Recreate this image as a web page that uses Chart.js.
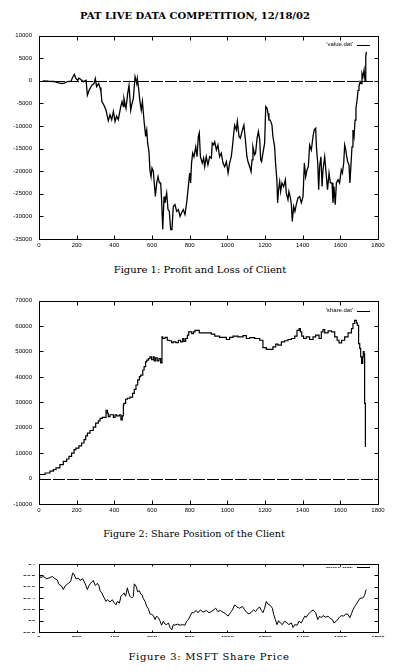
<!DOCTYPE html>
<html><head><meta charset="utf-8">
<script src="https://cdn.jsdelivr.net/npm/chart.js@4.4.1/dist/chart.umd.min.js"></script>
<style>
html,body{margin:0;padding:0;background:#fff}
body{width:397px;height:672px;position:relative;overflow:hidden}
canvas{position:absolute;left:0}
.t{position:absolute;white-space:nowrap;color:#000;font-family:"DejaVu Serif",serif;transform:translate(-50%,-50%)}
.lg{position:absolute;white-space:nowrap;color:#000;font-family:"Liberation Sans",sans-serif;font-size:6px;transform:translateY(-50%);text-align:right}
</style></head><body>
<div class="t" style="left:195px;top:15px;font-size:10px;font-weight:bold">PAT LIVE DATA COMPETITION, 12/18/02</div>
<canvas id="c1" width="397" height="230" style="top:25px"></canvas>
<div class="lg" style="right:44px;top:44px">'value.dat'</div>
<div class="t" style="left:200px;top:269px;font-size:10px">Figure 1: Profit and Loss of Client</div>
<canvas id="c2" width="397" height="230" style="top:290px"></canvas>
<div class="lg" style="right:44px;top:310px">'share.dat'</div>
<div class="t" style="left:194px;top:533px;font-size:9.6px">Figure 2: Share Position of the Client</div>
<canvas id="c3" width="397" height="88" style="top:556px"></canvas>
<div class="lg" style="right:44px;top:567px;font-weight:bold;transform:translateY(-50%) scaleY(0.4)">'price.dat'</div>
<div class="t" style="left:209px;top:656px;font-size:10px;letter-spacing:0.7px">Figure 3: MSFT Share Price</div>
<script>
// ---- data ----
const xTicks = [0,200,400,600,800,1000,1200,1400,1600,1800];
const pnlTicks = [-35000,-30000,-25000,-20000,-15000,-10000,-5000,0,5000,10000];
const shareTicks = [-10000,0,10000,20000,30000,40000,50000,60000,70000];
const priceTicks = [52.8,53,53.2,53.4,53.6,53.8,54];

const pnl = [[20,0],[50,-100],[80,-150],[100,-400],[120,-600],[135,-500],[150,-200],[170,-100],[180,900],[188,1400],[195,600],[205,100],[212,600],[222,300],[235,-200],[250,100],[257,-3200],[267,-2000],[280,-1000],[292,-600],[299,500],[306,-1300],[317,-600],[324,-1500],[329,-2400],[334,-4600],[345,-5400],[356,-6500],[363,-7900],[368,-8800],[377,-7500],[386,-8600],[395,-6800],[404,-9000],[412,-7800],[421,-8600],[434,-5700],[441,-4600],[448,-5700],[451,-3900],[462,-6100],[471,-2800],[478,-1000],[487,-6500],[492,-5400],[501,-3900],[510,900],[519,-600],[522,500],[529,-1700],[536,-4600],[543,-6500],[549,-4600],[558,-9000],[563,-10900],[566,-12300],[572,-10900],[577,-13800],[584,-15700],[589,-19700],[595,-21200],[600,-19300],[607,-20000],[612,-22600],[618,-25600],[625,-22600],[632,-21200],[639,-22600],[646,-22600],[651,-26300],[657,-32900],[664,-25600],[669,-27000],[678,-24800],[685,-28500],[692,-28900],[699,-32900],[706,-32900],[713,-27800],[722,-27400],[731,-28900],[740,-28500],[749,-30000],[757,-29200],[766,-28500],[775,-29600],[784,-27000],[793,-23400],[800,-20400],[805,-22600],[810,-18200],[816,-16000],[823,-16800],[832,-14600],[839,-16800],[846,-12300],[851,-11500],[857,-16800],[867,-18200],[874,-17100],[880,-19000],[888,-16800],[897,-18600],[906,-16800],[915,-17100],[920,-13800],[927,-14200],[933,-13500],[942,-15300],[950,-14200],[959,-16800],[968,-16000],[977,-18200],[986,-19000],[995,-17900],[1004,-20400],[1012,-18200],[1021,-16800],[1027,-14600],[1034,-11600],[1039,-9800],[1048,-10900],[1053,-9000],[1062,-12300],[1069,-12700],[1080,-10900],[1088,-9800],[1096,-13100],[1104,-16800],[1110,-17900],[1119,-19000],[1126,-20100],[1131,-17500],[1136,-14600],[1145,-16400],[1150,-16000],[1158,-12700],[1165,-11200],[1172,-13100],[1177,-17500],[1182,-17900],[1189,-16000],[1198,-13800],[1204,-5700],[1211,-6100],[1216,-7200],[1221,-8700],[1228,-8700],[1237,-9800],[1242,-12300],[1251,-14600],[1256,-18200],[1263,-21900],[1267,-27000],[1272,-24100],[1278,-22300],[1283,-24500],[1290,-22600],[1299,-23400],[1308,-21900],[1313,-24800],[1322,-26300],[1327,-24500],[1335,-25900],[1340,-27400],[1345,-31100],[1352,-27800],[1359,-28900],[1366,-27400],[1375,-25900],[1384,-25600],[1393,-27000],[1402,-25600],[1409,-18200],[1416,-21200],[1423,-19700],[1430,-19000],[1437,-14200],[1446,-15300],[1455,-12300],[1461,-10900],[1469,-10500],[1473,-14600],[1480,-18200],[1485,-24100],[1490,-19000],[1497,-16800],[1503,-23400],[1508,-19700],[1517,-16800],[1526,-21200],[1532,-24100],[1540,-20400],[1547,-22600],[1556,-22600],[1561,-27000],[1566,-23400],[1573,-27400],[1579,-22600],[1588,-21900],[1596,-22600],[1605,-19700],[1611,-20400],[1618,-18200],[1623,-14200],[1629,-15300],[1634,-16800],[1639,-17900],[1646,-18600],[1651,-22600],[1657,-18200],[1662,-14600],[1667,-10900],[1673,-12300],[1678,-8700],[1683,-6100],[1689,-4300],[1694,-2100],[1699,-1300],[1705,-200],[1710,-600],[1715,1600],[1720,900],[1726,2400],[1731,100],[1735,5300],[1738,6400]];

const shares = [[0,-1000],[3,0],[32,1600],[58,2200],[76,2900],[90,3500],[111,4200],[129,5500],[147,6800],[159,7700],[173,8700],[186,10000],[196,11400],[212,12000],[226,12900],[239,14000],[248,15300],[257,16800],[271,17900],[288,18900],[301,20200],[315,21800],[324,22700],[336,23700],[356,24100],[363,26800],[368,25700],[377,24400],[395,25100],[404,24100],[412,25100],[427,24700],[435,25100],[442,23100],[448,24700],[451,29000],[460,29600],[469,31200],[483,31600],[497,32000],[506,33500],[515,35100],[524,36800],[533,38800],[540,40100],[551,40700],[558,42700],[566,44000],[572,45900],[581,46600],[589,47200],[598,47900],[607,46800],[612,47900],[619,46300],[628,47500],[637,46300],[646,47200],[653,45500],[657,55700],[669,55100],[681,55500],[692,54400],[704,54200],[713,53500],[727,53800],[740,53500],[752,54400],[763,53800],[770,55100],[779,54000],[788,55100],[795,56400],[811,57700],[820,57000],[828,57700],[851,58300],[871,57300],[897,57300],[915,57300],[933,56800],[959,56000],[995,55500],[1012,54700],[1030,55500],[1057,56000],[1083,55700],[1101,56200],[1119,55100],[1145,55400],[1172,55100],[1189,54400],[1207,51500],[1242,50800],[1257,51800],[1269,52900],[1287,52500],[1304,53800],[1322,54200],[1340,54700],[1358,55100],[1370,56000],[1381,58300],[1388,59000],[1395,57700],[1405,56000],[1419,55100],[1437,55700],[1455,54700],[1469,55700],[1487,56400],[1499,55100],[1508,57700],[1517,58600],[1535,57300],[1553,58100],[1570,57700],[1583,55700],[1593,54400],[1607,53400],[1623,54400],[1641,55700],[1659,57300],[1667,59000],[1676,61000],[1685,62200],[1690,61200],[1697,60300],[1703,53100],[1708,51200],[1713,47900],[1719,45300],[1722,47900],[1726,49900],[1729,49000],[1733,29600],[1736,12700]];

const price = [[0,53.81],[9,53.76],[23,53.78],[41,53.74],[58,53.76],[71,53.78],[85,53.74],[97,53.72],[106,53.64],[120,53.61],[129,53.55],[138,53.61],[156,53.66],[168,53.69],[179,53.84],[186,53.82],[196,53.74],[209,53.75],[218,53.71],[232,53.74],[244,53.66],[257,53.55],[264,53.61],[274,53.66],[288,53.71],[299,53.62],[310,53.66],[319,53.61],[324,53.53],[333,53.49],[345,53.41],[356,53.34],[363,53.37],[377,53.33],[389,53.37],[400,53.31],[409,53.28],[416,53.34],[427,53.31],[435,53.43],[444,53.46],[451,53.49],[460,53.43],[469,53.58],[476,53.49],[483,53.43],[492,53.40],[501,53.43],[506,53.65],[515,53.61],[524,53.51],[533,53.53],[540,53.47],[547,53.46],[554,53.39],[563,53.34],[572,53.25],[581,53.21],[589,53.12],[598,53.11],[607,53.09],[616,53.02],[625,53.08],[634,53.05],[642,53.00],[651,52.92],[660,52.99],[669,52.94],[678,52.93],[687,52.96],[696,52.88],[705,52.84],[713,52.93],[722,52.92],[735,52.94],[749,52.92],[763,52.93],[775,52.92],[784,52.99],[793,53.02],[802,53.08],[811,53.14],[821,53.14],[835,53.18],[844,53.14],[857,53.19],[871,53.15],[888,53.18],[903,53.14],[915,53.16],[927,53.19],[938,53.22],[950,53.16],[963,53.18],[977,53.15],[991,53.12],[1004,53.08],[1016,53.14],[1027,53.19],[1039,53.28],[1051,53.24],[1065,53.22],[1080,53.25],[1092,53.19],[1104,53.14],[1115,53.12],[1127,53.15],[1140,53.19],[1150,53.16],[1163,53.22],[1172,53.24],[1181,53.18],[1189,53.14],[1198,53.22],[1207,53.34],[1216,53.29],[1228,53.27],[1239,53.22],[1246,53.11],[1255,53.02],[1264,52.93],[1272,53.00],[1281,52.96],[1292,52.93],[1304,52.99],[1317,52.96],[1327,52.93],[1340,52.96],[1349,52.88],[1358,52.93],[1370,52.92],[1381,52.99],[1393,52.96],[1402,53.02],[1411,53.08],[1419,53.06],[1428,53.11],[1441,53.15],[1455,53.19],[1469,53.14],[1480,53.02],[1490,53.08],[1499,53.05],[1508,53.09],[1522,53.06],[1535,53.08],[1543,53.05],[1558,53.02],[1566,52.96],[1579,52.99],[1593,53.05],[1605,53.09],[1618,53.08],[1629,53.12],[1641,53.11],[1650,53.05],[1659,53.12],[1667,53.19],[1676,53.25],[1685,53.29],[1694,53.34],[1703,53.39],[1712,53.40],[1720,53.40],[1729,53.45],[1735,53.53],[1738,53.55]];

// ---- rendering ----
const FONT = {family: '"Liberation Sans", Arial, sans-serif', size: 6};
const FONT3 = {family: '"Liberation Sans", Arial, sans-serif', size: 6, weight: 'bold'};

const framePlugin = {
  id: 'frame',
  beforeDatasetsDraw(chart, args, o) {
    if (!o.zero) return;
    const {ctx, chartArea: a, scales: {y}} = chart;
    const py = Math.round(y.getPixelForValue(0)) + 0.5;
    ctx.save();
    ctx.strokeStyle = '#000'; ctx.lineWidth = 1; ctx.setLineDash([12, 2]);
    ctx.beginPath(); ctx.moveTo(a.left, py); ctx.lineTo(a.right, py); ctx.stroke();
    ctx.restore();
  },
  afterDatasetsDraw(chart, args, o) {
    const {ctx, chartArea: a, scales: {x, y}} = chart;
    const L = Math.round(a.left) + 0.5, R = Math.round(a.right) + 0.5;
    const T = Math.round(a.top) + 0.5, B = Math.round(a.bottom) + 0.5;
    ctx.save();
    ctx.strokeStyle = '#000'; ctx.lineWidth = 1;
    ctx.strokeRect(L, T, R - L, B - T);
    ctx.beginPath();
    x.ticks.forEach(t => {
      const px = Math.round(x.getPixelForValue(t.value)) + 0.5;
      ctx.moveTo(px, B); ctx.lineTo(px, B - o.tv);
      ctx.moveTo(px, T); ctx.lineTo(px, T + o.tv);
    });
    y.ticks.forEach(t => {
      const py = Math.round(y.getPixelForValue(t.value)) + 0.5;
      ctx.moveTo(L, py); ctx.lineTo(L + o.th, py);
      ctx.moveTo(R, py); ctx.lineTo(R - o.th, py);
    });
    ctx.stroke();
    // legend sample line
    const ly = Math.round(a.top + o.ly) + 0.5;
    ctx.beginPath(); ctx.moveTo(a.right - 21, ly); ctx.lineTo(a.right - 8, ly); ctx.stroke();
    ctx.restore();
  }
};

// squash tick label text vertically (third figure)
function squash(scale, k) {
  const orig = scale.drawLabels;
  scale.drawLabels = function (area) {
    const ctx = this.ctx;
    const ft = ctx.fillText;
    ctx.fillText = function (t, xx, yy, mw) {
      this.save(); this.translate(xx, yy); this.scale(1, k);
      if (mw === undefined) ft.call(this, t, 0, 0); else ft.call(this, t, 0, 0, mw);
      this.restore();
    };
    orig.call(this, area);
    delete ctx.fillText;
  };
}

function fmt(v) {
  return Math.abs(v - Math.round(v)) < 1e-6 ? String(Math.round(v)) : v.toFixed(1);
}

function make(id, series, yt, opt) {
  const f = opt.font || FONT;
  return new Chart(document.getElementById(id), {
    type: 'line',
    data: { datasets: [{
      data: series.map(p => ({x: p[0], y: p[1]})),
      borderColor: '#000', borderWidth: opt.lw, pointRadius: 0,
      tension: 0, stepped: opt.stepped || false, fill: false
    }]},
    options: {
      responsive: false, animation: false, devicePixelRatio: 1,
      layout: { padding: {top: opt.padTop, right: 19, left: 0, bottom: 0} },
      plugins: { legend: {display: false}, tooltip: {enabled: false},
        frame: {zero: opt.zero, tv: opt.tv, th: 4, ly: opt.ly} },
      scales: {
        x: { type: 'linear', min: xTicks[0], max: xTicks[xTicks.length - 1],
          afterBuildTicks: s => { s.ticks = xTicks.map(v => ({value: v})); },
          afterFit: s => { s.height = opt.xh; },
          grid: {display: false, drawTicks: false},
          border: {display: false},
          ticks: {color: '#000', font: f, padding: opt.xpad, maxRotation: 0, autoSkip: false, callback: v => fmt(v)} },
        y: { type: 'linear', min: yt[0], max: yt[yt.length - 1],
          afterBuildTicks: s => { s.ticks = yt.map(v => ({value: v})); },
          afterFit: s => { s.width = 39; },
          grid: {display: false, drawTicks: false},
          border: {display: false},
          ticks: {color: '#000', font: f, padding: opt.ypad || 7, autoSkip: false, callback: v => fmt(v)} }
      }
    },
    plugins: [framePlugin, {
      id: 'sq', beforeDraw(chart) {
        if (opt.squash && !chart._sq) { squash(chart.scales.x, opt.squash); squash(chart.scales.y, opt.squash); chart._sq = true; }
      }
    }]
  });
}

make('c1', pnl, pnlTicks, {lw: 1.3, padTop: 10, xh: 16, xpad: 3, zero: true, tv: 4, ly: 9});
make('c2', shares, shareTicks, {lw: 1.2, padTop: 10, xh: 16, xpad: 3, zero: true, tv: 4, ly: 10, stepped: 'after'});
make('c3', price, priceTicks, {lw: 1, padTop: 8, xh: 12, xpad: 1, ypad: 4, zero: false, tv: 2, ly: 3, squash: 0.4, font: FONT3});
</script>
</body></html>
